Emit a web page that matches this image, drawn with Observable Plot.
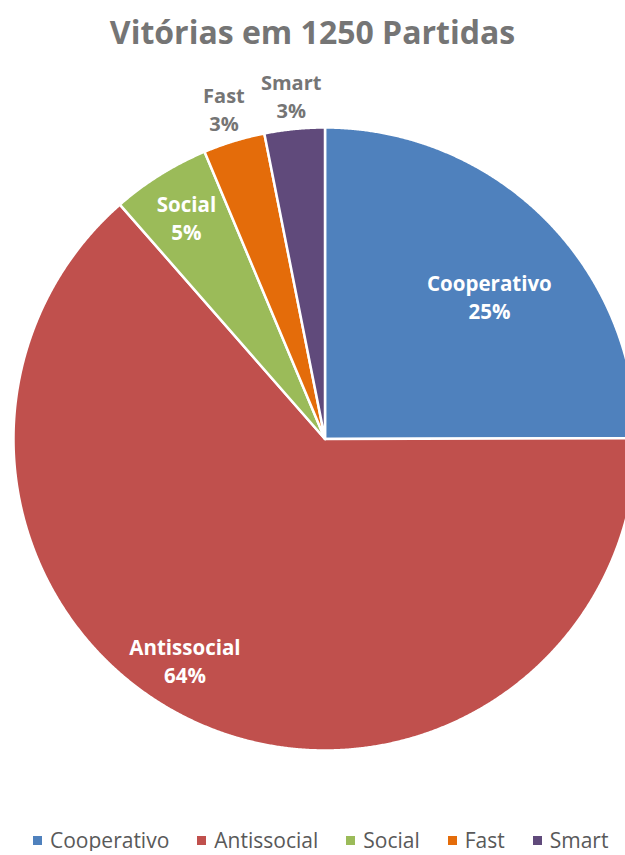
<!DOCTYPE html>
<html>
<head>
<meta charset="utf-8">
<script src="https://cdn.jsdelivr.net/npm/d3@7"></script>
<script src="https://cdn.jsdelivr.net/npm/@observablehq/plot@0.6"></script>
<style>
  html, body { margin: 0; padding: 0; background: #fff; overflow: hidden; }
  #title { height: 60px; line-height: 64px; text-align: center; font-family: "Open Sans", sans-serif;
           font-weight: bold; font-size: 32px; color: #757575; }
  #legend { display: flex; justify-content: flex-start; padding-left: 33px; margin-top: 29px; font-family: "Open Sans", sans-serif;
            font-size: 21px; line-height: 22px; color: #595959; white-space: nowrap; }
  #legend .item { display: flex; align-items: center; margin-right: 28px; }
  #legend .sw { width: 9px; height: 9px; margin-right: 8px; }
</style>
</head>
<body>
<div id="title">Vitórias em 1250 Partidas</div>
<div id="chart"></div>
<div id="legend"></div>
<script>
const categories = ["Cooperativo", "Antissocial", "Social", "Fast", "Smart"];
const wins = [312, 795, 64, 40, 39];
const colors = ["#4F81BD", "#C0504D", "#9BBB59", "#E46C0A", "#604A7B"];
const total = 1250;

const data = categories.map((c, i) => ({cat: c, value: wins[i]}));
const arcs = d3.pie().sort(null).value(d => d.value)(data);

// Polygon vertices of each slice (unit radius)
const pts = [];
for (const a of arcs) {
  pts.push({cat: a.data.cat, x: 0, y: 0});
  const n = Math.max(2, Math.ceil((a.endAngle - a.startAngle) / 0.004));
  for (let i = 0; i <= n; i++) {
    const t = a.startAngle + (a.endAngle - a.startAngle) * i / n;
    pts.push({cat: a.data.cat, x: Math.sin(t), y: Math.cos(t)});
  }
}

// Labels
const labels = arcs.map(a => {
  const share = a.data.value / total;
  const mid = (a.startAngle + a.endAngle) / 2;
  const outside = share < 0.04;
  const big = share > 0.5;
  const r = outside ? 1.11 : (share > 0.2 && share < 0.5 ? 0.70 : 0.84);
  const ang = big ? mid + 0.14 : (share > 0.2 && share < 0.5 ? mid + 0.07 : mid);
  return {
    cat: a.data.cat,
    x: r * Math.sin(ang),
    y: r * Math.cos(ang),
    text: a.data.cat + "\n" + Math.round(share * 100) + "%",
    outside
  };
});

const W = 625, H = 740, R = 311.5, cx = 324.5, cy = 378.5;

const chart = Plot.plot({
  width: W,
  height: H,
  margin: 0,
  x: {domain: [-cx / R, (W - cx) / R], axis: null},
  y: {domain: [(cy - H) / R, cy / R], axis: null},
  color: {domain: categories, range: colors},
  style: {background: "transparent", overflow: "visible"},
  marks: [
    Plot.line(pts, {x: "x", y: "y", z: "cat", fill: "cat", stroke: "white", strokeWidth: 2.5, curve: "linear-closed", strokeLinejoin: "round"}),
    Plot.text(labels.filter(d => !d.outside), {x: "x", y: "y", text: "text", fill: "white", fontWeight: "bold",
      fontSize: 20.5, lineHeight: 1.37, fontFamily: "Open Sans, sans-serif"}),
    Plot.text(labels.filter(d => d.outside), {x: "x", y: "y", text: "text", fill: "#757575", fontWeight: "bold",
      fontSize: 20, lineHeight: 1.4, fontFamily: "Open Sans, sans-serif"})
  ]
});
document.getElementById("chart").appendChild(chart);

const legend = document.getElementById("legend");
categories.forEach((c, i) => {
  const item = document.createElement("div");
  item.className = "item";
  const sw = document.createElement("span");
  sw.className = "sw";
  sw.style.background = colors[i];
  const lab = document.createElement("span");
  lab.textContent = c;
  item.appendChild(sw);
  item.appendChild(lab);
  legend.appendChild(item);
});
</script>
</body>
</html>
